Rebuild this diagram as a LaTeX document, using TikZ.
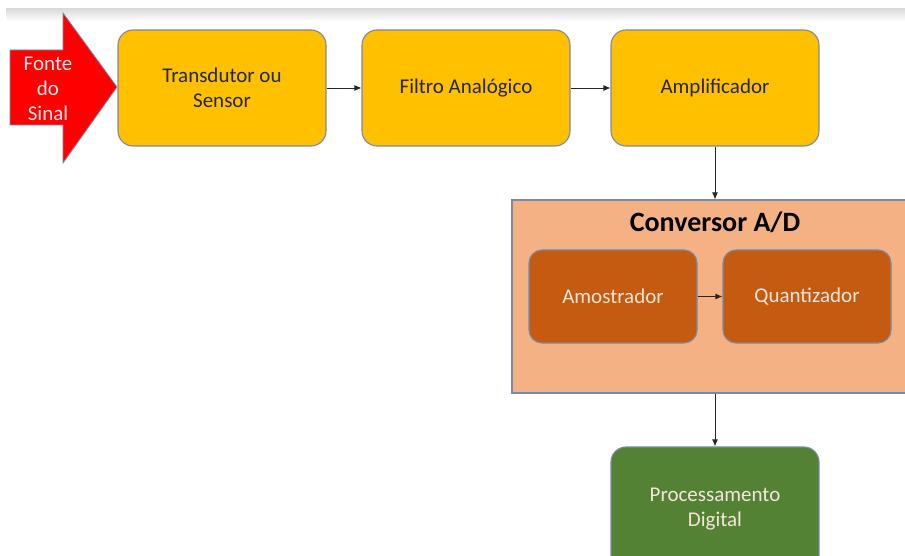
\documentclass[tikz,border=0pt]{standalone}
\usepackage{fontspec}
\setmainfont{Carlito}
\usetikzlibrary{arrows.meta}
\definecolor{boxyellow}{HTML}{FFC000}
\definecolor{convfill}{HTML}{F4B183}
\definecolor{stagefill}{HTML}{C55A11}
\definecolor{procfill}{HTML}{548235}
\definecolor{edgeblue}{HTML}{7A8AA6}
\definecolor{srcred}{HTML}{FF0000}
\definecolor{lighttext}{HTML}{F6E6DA}
\tikzset{
  blockbase/.style={draw=edgeblue, line width=1.1pt, rounded corners=15pt,
    align=center, font=\fontsize{21}{25}\selectfont, inner sep=0pt},
  yellowbox/.style={blockbase, fill=boxyellow, text=black!85,
    minimum width=208pt, minimum height=116pt},
  stagebox/.style={blockbase, fill=stagefill, text=lighttext,
    minimum width=168pt, minimum height=93pt, rounded corners=13pt},
  procbox/.style={blockbase, fill=procfill, text=lighttext,
    minimum width=208pt, minimum height=124pt},
  flow/.style={draw=black!85, line width=0.9pt, -{Latex[length=7pt,width=6pt]}}
}
\begin{document}
\begin{tikzpicture}[x=1pt, y={(0pt,-1pt)}]
  \useasboundingbox (0,0) rectangle (905,556);
  \fill[white] (0,0) rectangle (905,556);
  % soft grey band along the top edge
  \shade[top color=black!14, bottom color=white] (6,9) rectangle (905,21);

  \begin{scope}
    \clip (0,0) rectangle (905,556);

    % signal source arrow
    \fill[srcred, draw=edgeblue, line width=0.8pt]
      (10,50) -- (63,50) -- (63,13) -- (117,87) -- (63,163) -- (63,125) -- (10,125) -- cycle;
    \node[align=center, text=white!92!red, font=\fontsize{21}{25}\selectfont, inner sep=0pt]
      (src) at (48,89) {Fonte\\do\\Sinal};

    % analog chain
    \node[yellowbox] (trans) at (222,88) {Transdutor ou\\Sensor};
    \node[yellowbox] (filt)  at (466,88) {Filtro Analógico};
    \node[yellowbox] (amp)   at (715,88) {Amplificador};

    % A/D converter
    \node[draw=edgeblue, line width=1.1pt, fill=convfill, minimum width=420pt,
      minimum height=193pt, inner sep=0pt] (conv) at (722,296.5) {};
    \node[font=\bfseries\fontsize{28}{32}\selectfont, text=black, inner sep=0pt]
      (convtitle) at (715,222) {Conversor A/D};
    \node[stagebox] (amos)  at (613,296.5) {Amostrador};
    \node[stagebox] (quant) at (807,296.5) {Quantizador};

    % digital processing
    \node[procbox] (proc) at (715,509) {Processamento\\Digital};

    % connectors
    \draw[flow] (trans.east) -- (filt.west);
    \draw[flow] (filt.east) -- (amp.west);
    \draw[flow] (amp.south) -- (amp.south |- conv.north);
    \draw[flow] (amos.east) -- (quant.west);
    \draw[flow] (amp.south |- conv.south) -- (proc.north);
  \end{scope}
\end{tikzpicture}
\end{document}
